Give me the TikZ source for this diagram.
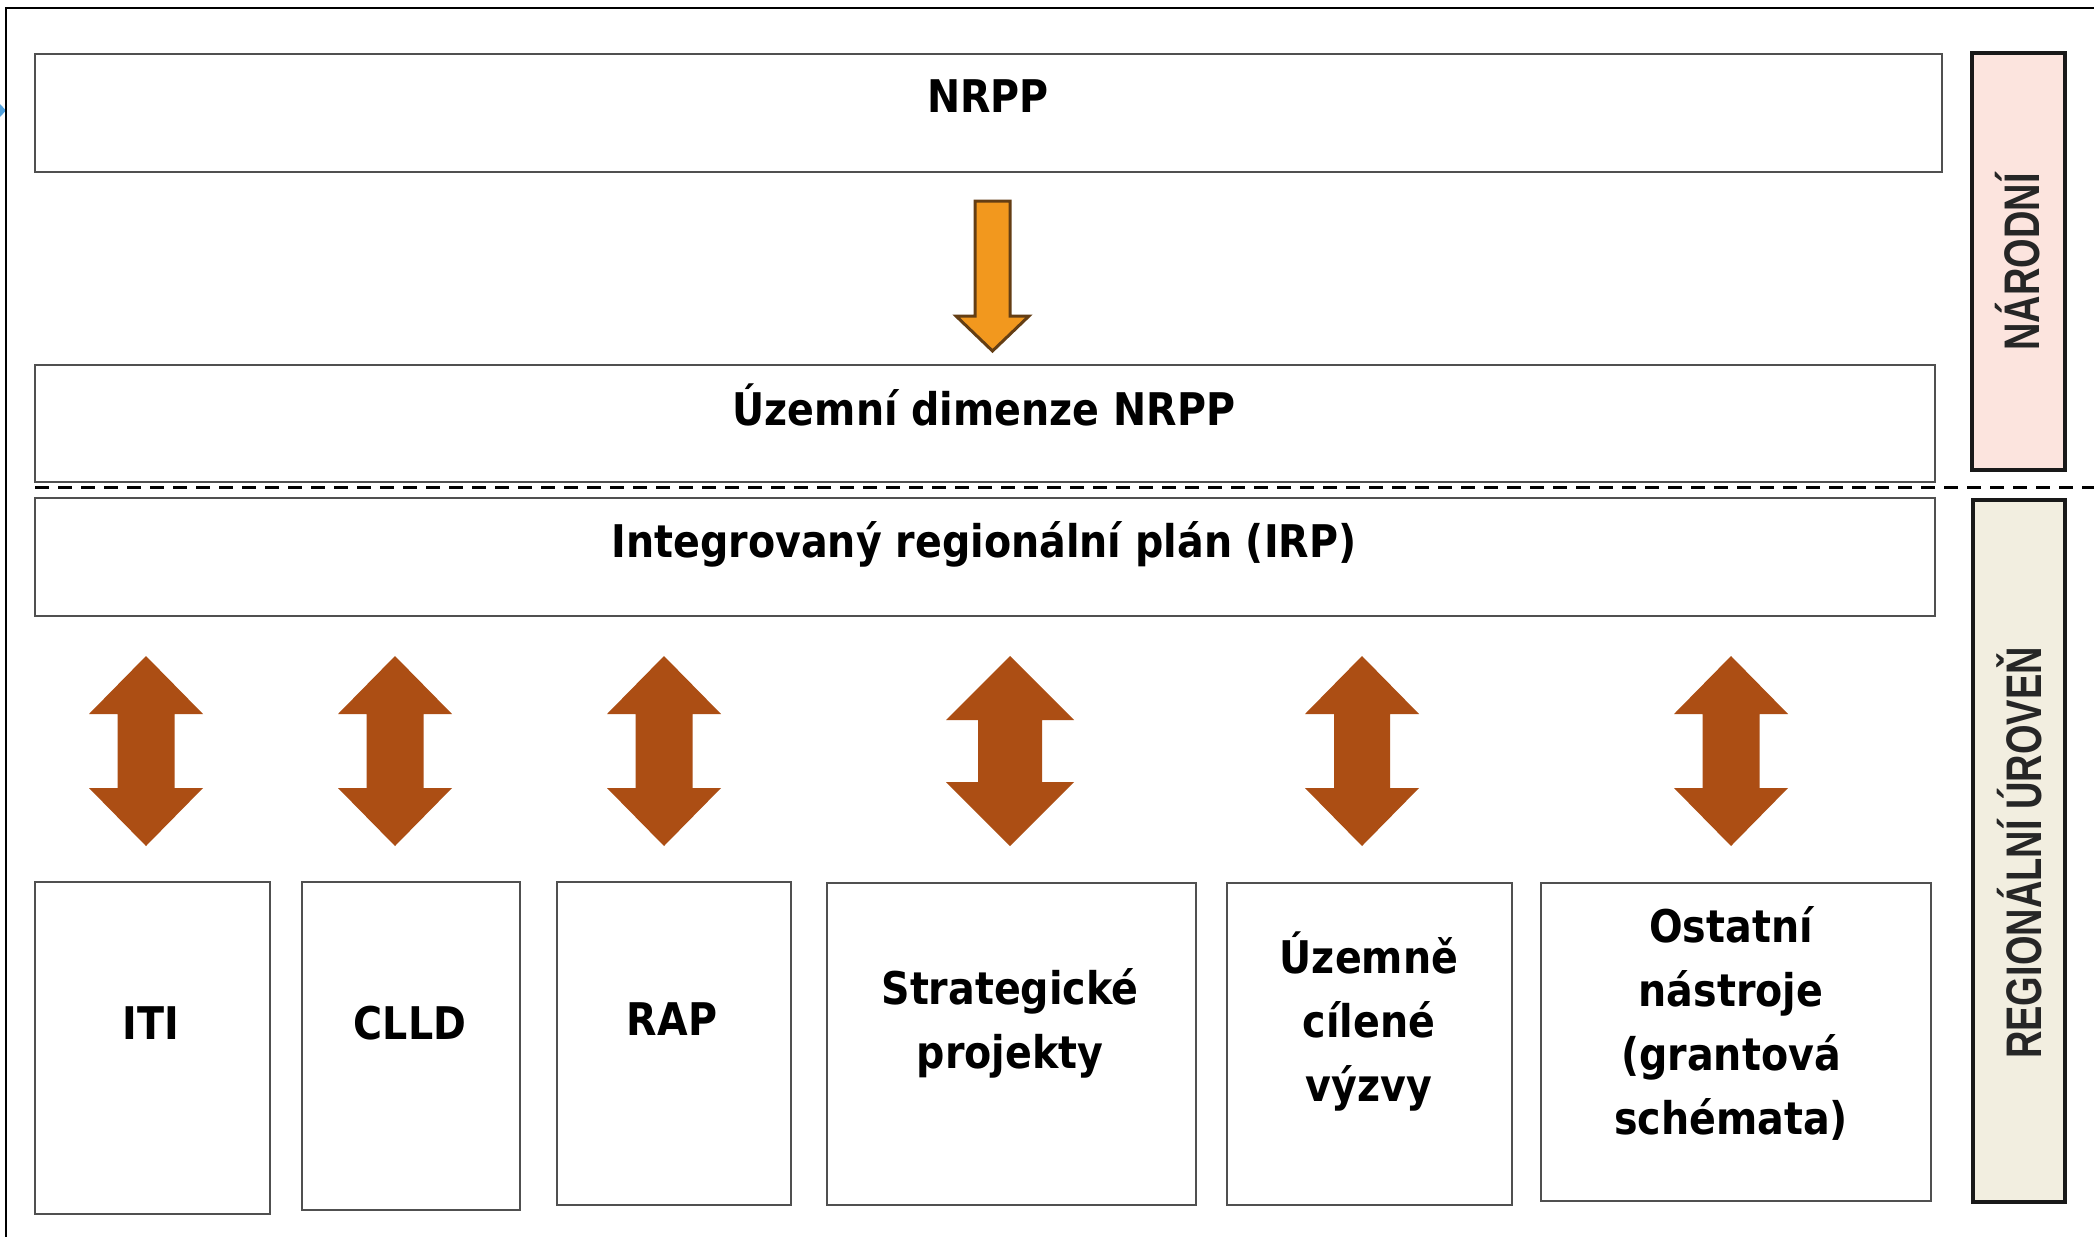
\documentclass[tikz,border=0pt]{standalone}
\usepackage{fontspec}
\newfontfamily\boxfont[FakeStretch=0.88]{DejaVu Sans}
\newfontfamily\sidefont[FakeStretch=0.76]{Liberation Sans}
\definecolor{boxline}{RGB}{80,80,80}
\definecolor{pinkfill}{RGB}{252,228,222}
\definecolor{beigefill}{RGB}{242,238,224}
\definecolor{orangefill}{RGB}{242,152,30}
\definecolor{orangeline}{RGB}{100,62,20}
\definecolor{rust}{RGB}{172,78,20}
\definecolor{bluemark}{RGB}{80,160,220}
\tikzset{
  pics/dblarr/.style n args={3}{code={
    \fill[rust] (0,-95) -- (#1,-95+#3) -- (#2,-95+#3) -- (#2,95-#3) -- (#1,95-#3) -- (0,95)
      -- (-#1,95-#3) -- (-#2,95-#3) -- (-#2,-95+#3) -- (-#1,-95+#3) -- cycle;
  }}
}
\begin{document}
\begin{tikzpicture}[x=0.5pt,y=-0.5pt,
  box/.style={draw=boxline, line width=1.1pt, fill=white, inner sep=0pt},
  sidebox/.style={draw=black!90, line width=1.6pt, inner sep=0pt},
  lbl/.style={font=\boxfont\bfseries\fontsize{22.5}{32}\selectfont, align=center, inner sep=0pt, text=black},
  sidelbl/.style={font=\sidefont\bfseries\fontsize{25}{28}\selectfont, rotate=90, inner sep=0pt, text=black!85}]
\useasboundingbox (0,0) rectangle (2094,1237);
\fill[white] (0,0) rectangle (2094,1237);
% small blue mark at left edge
\fill[bluemark] (0,104) -- (6,110.5) -- (0,117) -- cycle;
% outer frame
\draw[line width=1.25pt] (6,1237) -- (6,8) -- (2094,8);

% main boxes
\node[box, minimum width=953.5pt, minimum height=59pt] (nrpp) at (988.5,113) {};
\node[box, minimum width=950pt, minimum height=58.5pt] (uzd) at (985,423.5) {};
\node[box, minimum width=950pt, minimum height=59pt] (irp) at (985,557) {};
\node[lbl] (nrppT) at (988,96) {NRPP};
\node[lbl] (uzdT) at (984,405) {Územní dimenze NRPP};
\node[lbl] (irpT) at (984,544) {Integrovaný regionální plán (IRP)};

% side boxes
\node[sidebox, fill=pinkfill, minimum width=46.5pt, minimum height=208.5pt] (nar) at (2018.5,261.5) {};
\node[sidebox, fill=beigefill, minimum width=46pt, minimum height=351pt] (reg) at (2019,851) {};
\node[sidelbl] (narT) at (2018,262) {NÁRODNÍ};
\node[sidelbl] (regT) at (2019,853) {REGIONÁLNÍ ÚROVEŇ};

% dashed divider
\coordinate (dashL) at (35,487);
\coordinate (dashR) at (2094,487);
\draw[line width=1.5pt, dash pattern=on 7pt off 4.5pt] (dashL) -- (dashR);

% orange arrow NRPP -> Územní dimenze
\coordinate (oa) at (992.5,201);
\draw[fill=orangefill, draw=orangeline, line width=1.5pt, line join=miter]
  (oa) ++(-17.5,0) -- ++(35,0) -- ++(0,115) -- ++(19,0) -- (992.5,351) -- (956,316) -- (975,316) -- cycle;

% bottom boxes
\node[box, minimum width=117.5pt, minimum height=166pt] (iti) at (152.5,1048) {};
\node[box, minimum width=109pt, minimum height=164pt] (clld) at (411,1046) {};
\node[box, minimum width=117pt, minimum height=161.5pt] (rap) at (674,1043.5) {};
\node[box, minimum width=184.5pt, minimum height=161pt] (strat) at (1011.5,1044) {};
\node[box, minimum width=142.5pt, minimum height=161pt] (uzc) at (1369.5,1044) {};
\node[box, minimum width=195pt, minimum height=159pt] (ost) at (1736,1042) {};
\node[lbl] (itiT) at (151,1023) {ITI};
\node[lbl] (clldT) at (410,1023) {CLLD};
\node[lbl] (rapT) at (672,1019) {RAP};
\node[lbl] (stratT) at (1010,1023) {Strategické\\projekty};
\node[lbl] (uzcT) at (1369,1021) {Územně\\cílené\\výzvy};
\node[lbl] (ostT) at (1731,1023) {Ostatní\\nástroje\\(grantová\\schémata)};

% double arrows between IRP and the instruments
\pic at (146,751) {dblarr={57}{28.5}{58}};
\pic at (395,751) {dblarr={57}{28.5}{58}};
\pic at (664,751) {dblarr={57}{28.5}{58}};
\pic at (1010,751) {dblarr={64}{32}{64}};
\pic at (1362,751) {dblarr={57}{28}{58}};
\pic at (1731,751) {dblarr={57}{28.5}{58}};
\end{tikzpicture}
\end{document}
